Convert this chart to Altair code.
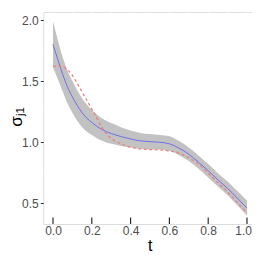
import altair as alt
import pandas as pd

# data
t_vals = [0.0, 0.025, 0.05, 0.075, 0.1, 0.125, 0.15, 0.175, 0.2, 0.225, 0.25, 0.275, 0.3,
          0.35, 0.4, 0.45, 0.5, 0.55, 0.6, 0.65, 0.7, 0.75, 0.8, 0.85, 0.9, 0.95, 1.0]
fit_vals = [1.80, 1.675, 1.555, 1.45, 1.37, 1.30, 1.24, 1.195, 1.16, 1.13, 1.105, 1.085, 1.07,
            1.045, 1.025, 1.01, 1.003, 0.998, 0.986, 0.95, 0.90, 0.835, 0.765, 0.69, 0.62, 0.54, 0.458]
lower_vals = [1.61, 1.515, 1.415, 1.315, 1.24, 1.175, 1.122, 1.085, 1.057, 1.032, 1.012, 0.996, 0.985,
              0.968, 0.955, 0.945, 0.941, 0.938, 0.928, 0.892, 0.845, 0.78, 0.71, 0.635, 0.564, 0.482, 0.398]
upper_vals = [1.99, 1.835, 1.695, 1.585, 1.50, 1.425, 1.358, 1.305, 1.263, 1.228, 1.198, 1.174, 1.155,
              1.122, 1.095, 1.075, 1.065, 1.058, 1.048, 1.008, 0.955, 0.89, 0.82, 0.745, 0.676, 0.598, 0.518]
true_vals = [1.617, 1.625, 1.618, 1.592, 1.547, 1.48, 1.41, 1.34, 1.27, 1.20, 1.125, 1.068, 1.03,
             0.985, 0.958, 0.944, 0.938, 0.935, 0.927, 0.908, 0.87, 0.82, 0.745, 0.665, 0.59, 0.505, 0.417]

x_major = [0.0, 0.2, 0.4, 0.6, 0.8, 1.0]
x_minor = [0.1, 0.3, 0.5, 0.7, 0.9]
y_major = [0.5, 1.0, 1.5, 2.0]
y_minor = [0.75, 1.25, 1.75]

W, H = 208.7, 212

df = pd.DataFrame({"t": t_vals, "fit": fit_vals, "lo": lower_vals, "hi": upper_vals, "tru": true_vals})

xs = alt.Scale(domain=[-0.05, 1.0258], nice=False, zero=False)
ys = alt.Scale(domain=[0.328, 2.066], nice=False, zero=False)

xaxis = alt.Axis(values=x_major, format=".1f", title="t", grid=True, gridColor="white",
                 gridWidth=1.1, ticks=False, tickSize=0, domain=False, labelPadding=1,
                 labelFlush=6, labelFlushOffset=4.5,
                 labelFontSize=12, labelColor="#4D4D4D", labelFont="Liberation Sans",
                 titleFont="Liberation Sans", titleFontSize=16, titleFontWeight="normal",
                 titleColor="black", titlePadding=1, titleX=106.4)
yaxis = alt.Axis(values=y_major, format=".1f", title=None, grid=True, gridColor="white",
                 gridWidth=1.1, ticks=True, tickSize=3, tickColor="#333333", tickWidth=1,
                 domain=False, labelPadding=2, labelFontSize=12, labelColor="#4D4D4D",
                 labelFont="Liberation Sans")

xminor = alt.Chart(pd.DataFrame({"x": x_minor})).mark_rule(color="white", strokeWidth=0.55).encode(
    x=alt.X("x:Q", scale=xs, axis=xaxis))
yminor = alt.Chart(pd.DataFrame({"y": y_minor})).mark_rule(color="white", strokeWidth=0.55).encode(
    y=alt.Y("y:Q", scale=ys, axis=yaxis))

band = alt.Chart(df).mark_area(color="#C2C2C2", interpolate="monotone").encode(
    x=alt.X("t:Q", scale=xs), y=alt.Y("lo:Q", scale=ys), y2="hi:Q")
fit = alt.Chart(df).mark_line(color="#6E6EF0", strokeWidth=1, interpolate="monotone").encode(
    x=alt.X("t:Q", scale=xs), y=alt.Y("fit:Q", scale=ys))
tru = alt.Chart(df).mark_line(color="#F27A7A", strokeWidth=1.2, strokeDash=[3, 2.5],
                              interpolate="monotone").encode(
    x=alt.X("t:Q", scale=xs), y=alt.Y("tru:Q", scale=ys))

ticks = alt.Chart(pd.DataFrame({"x": x_major})).mark_rule(color="#1A1A1A", strokeWidth=1.1).encode(
    x=alt.X("x:Q", scale=xs), y=alt.value(H - 6.5), y2=alt.value(H))

ttl = pd.DataFrame({"s": ["σ"]})
sig = alt.Chart(ttl).mark_text(text="σ", angle=270, fontSize=17, font="Liberation Sans",
                               color="black", align="center", baseline="middle").encode(
    x=alt.value(-26.6), y=alt.value(109.5))
sub = alt.Chart(ttl).mark_text(text="j1", angle=270, fontSize=11.5, font="Liberation Sans",
                               color="black", align="center", baseline="middle").encode(
    x=alt.value(-22.3), y=alt.value(99.5))

chart = alt.layer(xminor, yminor, band, fit, tru, ticks, sig, sub).properties(
    width=W, height=H,
    autosize=alt.AutoSizeParams(type="none"),
    padding={"left": 35.3, "top": 4, "right": 0, "bottom": 28},
).configure_view(fill="#EBEBEB", stroke=None).configure(background="white")

chart.save("out.html", embed_options={"renderer": "svg", "actions": False})
